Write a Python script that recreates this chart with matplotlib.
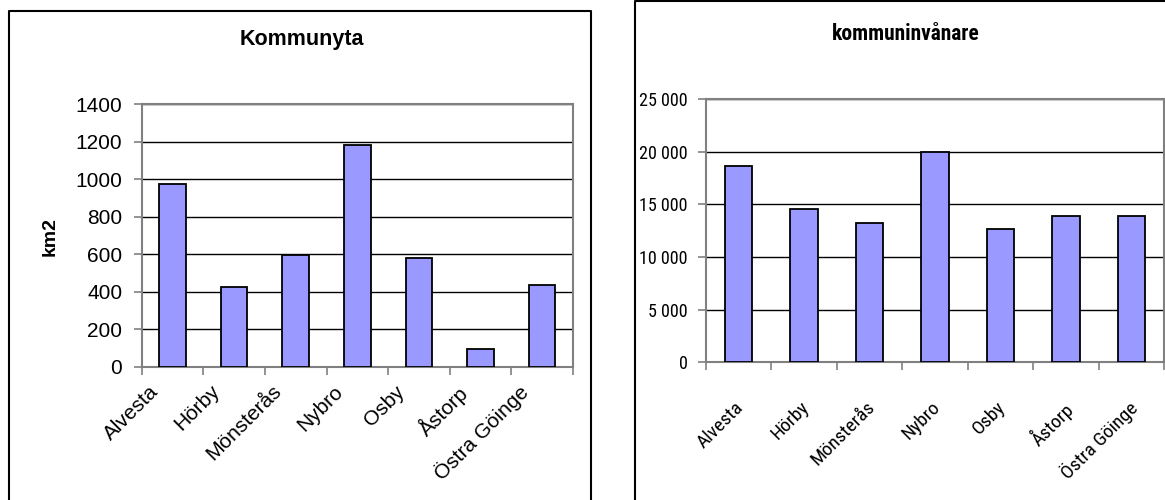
import matplotlib
matplotlib.use("Agg")
import matplotlib.pyplot as plt
from matplotlib.lines import Line2D
from matplotlib import font_manager
import numpy as np

categories = ["Alvesta", "Hörby", "Mönsterås", "Nybro", "Osby", "Åstorp", "Östra Göinge"]
area_km2 = [973, 425, 597, 1183, 578, 94, 434]
inhabitants = [18670, 14555, 13197, 19980, 12657, 13862, 13850]
left_yticks = [0, 200, 400, 600, 800, 1000, 1200, 1400]
right_yticks = [0, 5000, 10000, 15000, 20000, 25000]
right_ytick_labels = ["0", "5 000", "10 000", "15 000", "20 000", "25 000"]

W, H = 1165, 500
fig = plt.figure(figsize=(W / 100, H / 100), dpi=100)
fig.patch.set_facecolor("white")

ARIAL = ["Liberation Sans", "DejaVu Sans"]

narrow_name = None
for cand in ["Liberation Sans Narrow", "Arial Narrow", "Roboto Condensed"]:
    try:
        font_manager.findfont(font_manager.FontProperties(family=cand),
                              fallback_to_default=False)
        narrow_name = cand
        break
    except Exception:
        pass
if narrow_name:
    NARROW = [narrow_name, "Liberation Sans", "DejaVu Sans"]
    R_TICK, R_LAB, R_TITLE = 13, 14, 15.5
else:
    NARROW = ARIAL
    R_TICK, R_LAB, R_TITLE = 12.5, 12.5, 13.5

BAR = "#9999FF"
GRAY = "#808080"


def fx(px):
    return px / W


def fy(py):
    return 1 - py / H


# Outer chart boxes
for xs, ys in [([9, 9, 591, 591], [520, 11, 11, 520]),
               ([635, 635, 1200], [520, 1, 1])]:
    fig.add_artist(Line2D([fx(v) for v in xs], [fy(v) for v in ys],
                          color="black", lw=1.5, transform=fig.transFigure))


def style_axes(ax, n, ymax, yticks, ylabels, font, tsize, lsize, pad,
               lab_off, lab_down):
    x = np.arange(n)
    ax.set_xlim(-0.5, n - 0.5)
    ax.set_ylim(0, ymax)
    ax.set_yticks(yticks)
    ax.set_yticklabels(ylabels, family=font, fontsize=tsize)
    ax.yaxis.grid(True, color="black", lw=1.0)
    ax.set_axisbelow(True)
    for s in ax.spines.values():
        s.set_color(GRAY)
        s.set_linewidth(1.5)
    ax.tick_params(axis="y", length=6, width=1.2, color=GRAY, pad=pad)
    ax.set_xticks(np.arange(n + 1) - 0.5)
    ax.set_xticklabels([])
    ax.tick_params(axis="x", length=6, width=1.2, color=GRAY)
    for i, c in enumerate(categories):
        ax.annotate(c, xy=(x[i], 0), xycoords="data",
                    xytext=(lab_off, -lab_down), textcoords="offset pixels",
                    rotation=45, rotation_mode="anchor", ha="right", va="top",
                    family=font, fontsize=lsize, annotation_clip=False)


# Left chart
axL = fig.add_axes([fx(141.7), fy(366.7), fx(573 - 141.7), (366.7 - 104) / H])
axL.bar(np.arange(len(categories)), area_km2, width=0.43, color=BAR,
        edgecolor="black", linewidth=1.3, zorder=3)
style_axes(axL, len(categories), 1400, left_yticks, [str(v) for v in left_yticks],
           ARIAL, 15, 15, 8, -24, 15)
fig.text(fx(302), fy(40), "Kommunyta", ha="center", va="center",
         family=ARIAL, fontsize=15.5, fontweight="bold")
fig.text(fx(50), fy(237), "km2", ha="center", va="center", rotation=90,
         family=ARIAL, fontsize=14, fontweight="bold")

# Right chart
axR = fig.add_axes([fx(706), fy(362.3), fx(1164 - 706), (362.3 - 99) / H])
axR.bar(np.arange(len(categories)), inhabitants, width=0.42, color=BAR,
        edgecolor="black", linewidth=1.3, zorder=3)
style_axes(axR, len(categories), 25000, right_yticks, right_ytick_labels,
           NARROW, R_TICK, R_LAB, 7, -4, 36)
fig.text(fx(906), fy(34), "kommuninvånare", ha="center", va="center",
         family=NARROW, fontsize=R_TITLE, fontweight="bold")

fig.savefig("out.png", dpi=100)
